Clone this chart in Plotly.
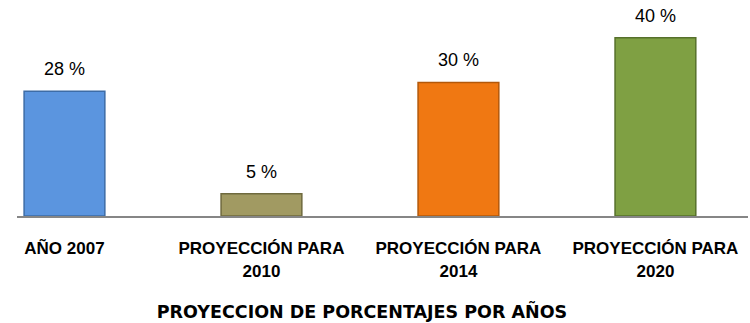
import plotly.graph_objects as go

# Chart data
categories = ["AÑO 2007", "PROYECCIÓN PARA<br>2010", "PROYECCIÓN PARA<br>2014", "PROYECCIÓN PARA<br>2020"]
values = [28, 5, 30, 40]
labels = [f"{v} %" for v in values]
bar_colors = ["#5B95DF", "#A19A62", "#F07812", "#7FA043"]
edge_colors = ["#3D6CA6", "#6F6A3E", "#B3580A", "#56702B"]
title_text = "PROYECCION DE PORCENTAJES POR AÑOS"

x_idx = list(range(len(categories)))

fig = go.Figure(
    go.Bar(
        x=x_idx,
        y=values,
        width=0.41,
        marker=dict(color=bar_colors, line=dict(color=edge_colors, width=1.5)),
        hoverinfo="skip",
    )
)

# value labels above each bar
for xi, v, lab in zip(x_idx, values, labels):
    fig.add_annotation(
        x=xi, y=v, text=lab, showarrow=False, yanchor="bottom", yshift=10,
        font=dict(family="Liberation Sans", size=18, color="#000000"),
    )

fig.update_layout(
    width=750,
    height=323,
    margin=dict(l=17, r=2, t=0, b=107),
    paper_bgcolor="white",
    plot_bgcolor="white",
    showlegend=False,
    title=dict(
        text=title_text,
        xref="container", yref="container",
        x=362 / 750, y=1 - 312 / 323,
        xanchor="center", yanchor="middle",
        font=dict(family="DejaVu Sans", size=17.5, color="#000000", weight="bold"),
    ),
    xaxis=dict(
        range=[-0.241, 3.47],
        tickmode="array",
        tickvals=x_idx,
        ticktext=categories,
        showline=True,
        linecolor="#868686",
        linewidth=2,
        showgrid=False,
        zeroline=False,
        ticks="",
        ticklabelstandoff=16,
        tickfont=dict(family="Liberation Sans", size=17, color="#000000", weight="bold"),
        fixedrange=True,
    ),
    yaxis=dict(
        range=[0, 48.5],
        visible=False,
        fixedrange=True,
    ),
)

fig.write_html("out.html")
